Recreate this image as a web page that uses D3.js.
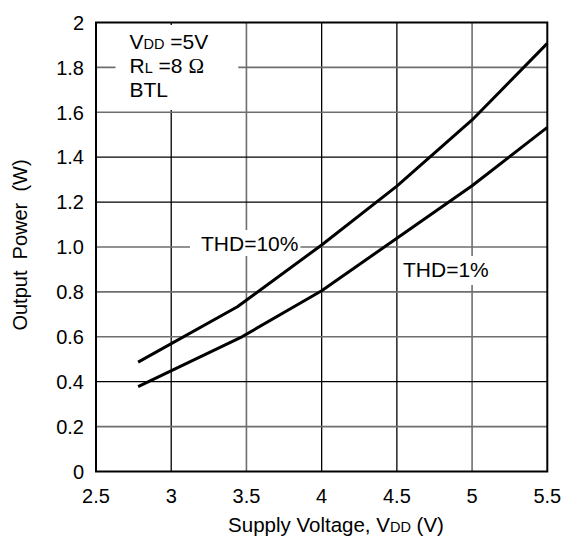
<!DOCTYPE html>
<html>
<head>
<meta charset="utf-8">
<script src="https://cdn.jsdelivr.net/npm/d3@7"></script>
<style>
  html, body { margin: 0; padding: 0; background: #fff; }
  svg { display: block; }
  text { font-family: "Liberation Sans", Arial, sans-serif; fill: #000; }
</style>
</head>
<body>
<svg id="chart" width="563" height="539"></svg>
<script>
// ---- data ----
const xTicks = [2.5, 3, 3.5, 4, 4.5, 5, 5.5];
const xTickLabels = ["2.5", "3", "3.5", "4", "4.5", "5", "5.5"];
const yTicks = [0, 0.2, 0.4, 0.6, 0.8, 1.0, 1.2, 1.4, 1.6, 1.8, 2];
const yTickLabels = ["0", "0.2", "0.4", "0.6", "0.8", "1.0", "1.2", "1.4", "1.6", "1.8", "2"];
const thd10V = [2.78, 3.44, 4.0, 4.5, 5.0, 5.5];
const thd10P = [0.487, 0.734, 1.009, 1.271, 1.566, 1.907];
const thd1V = [2.78, 3.47, 4.0, 4.5, 5.0, 5.5];
const thd1P = [0.378, 0.600, 0.805, 1.039, 1.273, 1.533];
const darkXGrid = [3, 4, 4.5];
const darkYGrid = [0.4, 1.2, 1.4];

// ---- layout ----
const svg = d3.select("#chart");
const x = d3.scaleLinear().domain([2.5, 5.5]).range([96, 547.3]);
const y = d3.scaleLinear().domain([0, 2]).range([471.5, 22.5]);
const FS = 20;

// grid
const grid = svg.append("g");
grid.selectAll("line.v").data(xTicks.slice(1, -1)).join("line")
  .attr("x1", d => x(d)).attr("x2", d => x(d))
  .attr("y1", y(0)).attr("y2", y(2))
  .attr("stroke", d => darkXGrid.includes(d) ? "#000" : "#6e6e6e")
  .attr("stroke-width", d => darkXGrid.includes(d) ? 1.3 : 1.6);
grid.selectAll("line.h").data(yTicks.slice(1, -1)).join("line")
  .attr("y1", d => y(d)).attr("y2", d => y(d))
  .attr("x1", x(2.5)).attr("x2", x(5.5))
  .attr("stroke", d => darkYGrid.includes(d) ? "#000" : "#6e6e6e")
  .attr("stroke-width", d => darkYGrid.includes(d) ? 1.3 : 1.6);

// annotation block
const ann = svg.append("g");
const annBg = ann.append("rect").attr("fill", "#fff");
const annText = ann.append("text").attr("font-size", 21);
const annLines = [
  [["V", 21], ["DD", 14.5], [" =5V", 21]],
  [["R", 21], ["L", 14.5], [" =8 ", 21], ["\u03A9", 21, "Liberation Serif"]],
  [["BTL", 21]]
];
annLines.forEach((parts, i) => {
  parts.forEach((p, j) => {
    const sp = annText.append("tspan").text(p[0]).attr("font-size", p[1]);
    if (j === 0) sp.attr("x", 129.5).attr("y", 48.5 + i * 24);
    if (p[2]) sp.attr("font-family", p[2]);
  });
});
{
  const bb = annText.node().getBBox();
  annBg.attr("x", bb.x - 14).attr("y", y(2) + 2.5)
    .attr("width", bb.width + 44).attr("height", bb.y + bb.height - y(2) + 7);
}

// THD labels
function thdLabel(txt, cx, by, padL, padR, padT, padB) {
  const g = svg.append("g");
  const r = g.append("rect").attr("fill", "#fff");
  const t = g.append("text").attr("font-size", 21).attr("x", cx).attr("y", by).text(txt);
  const bb = t.node().getBBox();
  r.attr("x", bb.x - padL).attr("y", bb.y - padT)
    .attr("width", bb.width + padL + padR).attr("height", bb.height + padT + padB);
}
thdLabel("THD=10%", 201, 251, 11, 2, 2, 1);
thdLabel("THD=1%", 403, 277, 4, 4, 2, 4);

// curves
const line = d3.line().x(d => x(d[0])).y(d => y(d[1])).curve(d3.curveLinear);
const c10 = thd10V.map((v, i) => [v, thd10P[i]]);
const c1 = thd1V.map((v, i) => [v, thd1P[i]]);
[c10, c1].forEach(c => {
  svg.append("path").attr("d", line(c)).attr("fill", "none")
    .attr("stroke", "#000").attr("stroke-width", 3)
    .attr("stroke-linecap", "butt").attr("stroke-linejoin", "round");
});

// frame
svg.append("rect").attr("x", x(2.5)).attr("y", y(2))
  .attr("width", x(5.5) - x(2.5)).attr("height", y(0) - y(2))
  .attr("fill", "none").attr("stroke", "#000").attr("stroke-width", 2);

// y tick labels
svg.append("g").selectAll("text").data(yTicks).join("text")
  .attr("x", 84).attr("y", d => y(d)).attr("dy", "0.36em")
  .attr("text-anchor", "end").attr("font-size", FS)
  .text((d, i) => yTickLabels[i]);
// x tick labels
svg.append("g").selectAll("text").data(xTicks).join("text")
  .attr("x", d => x(d)).attr("y", 503)
  .attr("text-anchor", "middle").attr("font-size", FS)
  .text((d, i) => xTickLabels[i]);

// axis titles
const xt = svg.append("text").attr("x", 336).attr("y", 531.5).attr("text-anchor", "middle").attr("font-size", 20.5);
xt.append("tspan").text("Supply Voltage, V");
xt.append("tspan").text("DD").attr("font-size", 14.5);
xt.append("tspan").text(" (V)");

svg.append("text").attr("transform", "translate(27,245) rotate(-90)")
  .attr("text-anchor", "middle").attr("font-size", 20)
  .attr("xml:space", "preserve")
  .text("Output  Power  (W)");
</script>
</body>
</html>
